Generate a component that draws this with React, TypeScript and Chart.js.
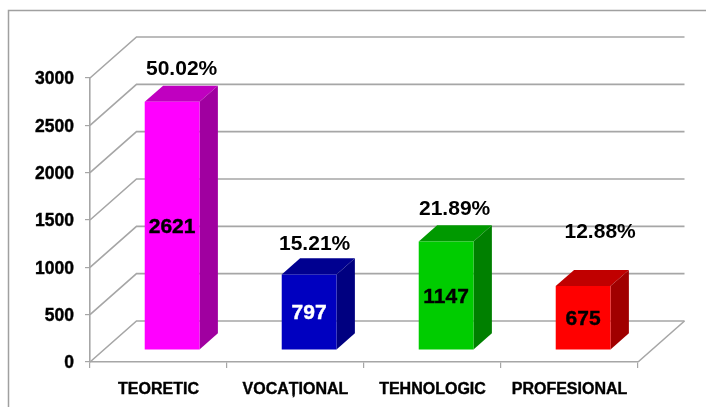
import React, { useEffect, useRef } from "react";
import { Chart, registerables } from "chart.js";

Chart.register(...registerables);

const categories = ["TEORETIC", "VOCAȚIONAL", "TEHNOLOGIC", "PROFESIONAL"];
const values = [2621, 797, 1147, 675];
const percents = ["50.02%", "15.21%", "21.89%", "12.88%"];
const valueColors = ["#000000", "#ffffff", "#000000", "#000000"];
const frontColors = ["#ff00ff", "#0000c0", "#00cc00", "#ff0000"];
const topColors = ["#c000c0", "#000090", "#009900", "#c00000"];
const sideColors = ["#a000a0", "#000080", "#008000", "#a00000"];

const GRID = "#a6a6a6";
const FONT = '"Liberation Sans", Arial, sans-serif';
const WALL_DX = 46.5;
const WALL_DY = 41;
const BAR_NEAR = 0.293;
const BAR_DEPTH = 0.395;
const PCT_NUDGE: [number, number][] = [
  [9.5, -33],
  [5.5, -30.5],
  [8.5, -32.2],
  [17, -53.5],
];

const poly = (ctx: CanvasRenderingContext2D, pts: number[][], fill: string) => {
  ctx.beginPath();
  pts.forEach(([x, y], i) => (i ? ctx.lineTo(x, y) : ctx.moveTo(x, y)));
  ctx.closePath();
  ctx.fillStyle = fill;
  ctx.fill();
};

const threeD = {
  id: "threeD",
  afterDatasetsUpdate(chart: any) {
    // The bars stand a little way back on the floor of the 3D box.
    const dx = WALL_DX * BAR_NEAR;
    const dy = WALL_DY * BAR_NEAR;
    chart.getDatasetMeta(0).data.forEach((bar: any) => {
      bar.x += dx;
      bar.y -= dy;
      bar.base -= dy;
    });
  },
  beforeDraw(chart: any) {
    const ctx: CanvasRenderingContext2D = chart.ctx;
    ctx.save();
    ctx.strokeStyle = "#a0a0a0";
    ctx.lineWidth = 1.5;
    ctx.beginPath();
    ctx.moveTo(8.5, chart.height);
    ctx.lineTo(8.5, 10.5);
    ctx.lineTo(chart.width, 10.5);
    ctx.stroke();
    ctx.restore();
  },
  beforeDatasetsDraw(chart: any) {
    const ctx: CanvasRenderingContext2D = chart.ctx;
    const { x, y } = chart.scales;
    const left = x.left;
    const right = x.right;
    ctx.save();
    ctx.strokeStyle = GRID;
    ctx.lineWidth = 1.6;
    y.ticks.forEach((t: any) => {
      const py = y.getPixelForValue(t.value);
      ctx.beginPath();
      ctx.moveTo(left, py);
      ctx.lineTo(left + WALL_DX, py - WALL_DY);
      ctx.lineTo(right + WALL_DX, py - WALL_DY);
      ctx.stroke();
    });
    const floor = y.getPixelForValue(0);
    ctx.beginPath();
    ctx.moveTo(right, floor);
    ctx.lineTo(right + WALL_DX, floor - WALL_DY);
    ctx.stroke();

    const dx = WALL_DX * BAR_DEPTH;
    const dy = WALL_DY * BAR_DEPTH;
    chart.getDatasetMeta(0).data.forEach((bar: any, i: number) => {
      const l = bar.x - bar.width / 2;
      const r = bar.x + bar.width / 2;
      poly(ctx, [[l, bar.y], [l + dx, bar.y - dy], [r + dx, bar.y - dy], [r, bar.y]], topColors[i]);
      poly(ctx, [[r, bar.y], [r + dx, bar.y - dy], [r + dx, bar.base - dy], [r, bar.base]], sideColors[i]);
    });
    ctx.restore();
  },
  afterDatasetsDraw(chart: any) {
    const ctx: CanvasRenderingContext2D = chart.ctx;
    ctx.save();
    ctx.textAlign = "center";
    ctx.textBaseline = "middle";
    ctx.font = `bold 21px ${FONT}`;
    ctx.lineWidth = 0.4;
    chart.getDatasetMeta(0).data.forEach((bar: any, i: number) => {
      ctx.fillStyle = valueColors[i];
      ctx.strokeStyle = valueColors[i];
      const vy = (bar.y + bar.base) / 2 + 1.5;
      ctx.fillText(String(values[i]), bar.x, vy);
      ctx.strokeText(String(values[i]), bar.x, vy);
      ctx.fillStyle = "#000000";
      ctx.fillText(percents[i], bar.x + PCT_NUDGE[i][0], bar.y + PCT_NUDGE[i][1]);
    });
    ctx.restore();
  },
};

export default function App() {
  const ref = useRef<HTMLCanvasElement>(null);
  useEffect(() => {
    const chart = new Chart(ref.current as HTMLCanvasElement, {
      type: "bar",
      data: {
        labels: categories,
        datasets: [
          {
            data: values,
            backgroundColor: frontColors,
            borderWidth: 0,
            categoryPercentage: 1,
            barPercentage: 0.4,
          },
        ],
      },
      plugins: [threeD],
      options: {
        responsive: false,
        animation: false,
        layout: { padding: { left: 0, right: 68, top: 78, bottom: 0 } },
        plugins: { legend: { display: false }, tooltip: { enabled: false } },
        scales: {
          x: {
            afterFit: (s: any) => {
              s.height = 45;
            },
            border: { color: GRID, width: 1.6 },
            grid: {
              offset: true,
              drawOnChartArea: false,
              drawTicks: true,
              tickLength: 6,
              color: GRID,
              lineWidth: 1.2,
            },
            ticks: {
              color: "#000000",
              padding: 12,
              maxRotation: 0,
              autoSkip: false,
              textStrokeColor: "#000000",
              textStrokeWidth: 0.4,
              font: { family: FONT, size: 16, weight: "bold" },
            },
          },
          y: {
            min: 0,
            max: 3000,
            afterFit: (s: any) => {
              s.width = 90;
            },
            border: { color: GRID, width: 1.6 },
            grid: {
              drawOnChartArea: false,
              drawTicks: true,
              tickLength: 5,
              color: GRID,
              lineWidth: 1.2,
            },
            ticks: {
              stepSize: 500,
              color: "#000000",
              padding: 11,
              labelOffset: 1.5,
              textStrokeColor: "#000000",
              textStrokeWidth: 0.4,
              callback: (v: any) => String(v),
              font: { family: FONT, size: 17.5, weight: "bold" },
            },
          },
        },
      },
    } as any);
    return () => chart.destroy();
  }, []);
  return (
    <div style={{ position: "absolute", left: 0, top: 0, width: 706, height: 407, background: "#ffffff" }}>
      <canvas ref={ref} width={706} height={407} style={{ display: "block" }} />
    </div>
  );
}
